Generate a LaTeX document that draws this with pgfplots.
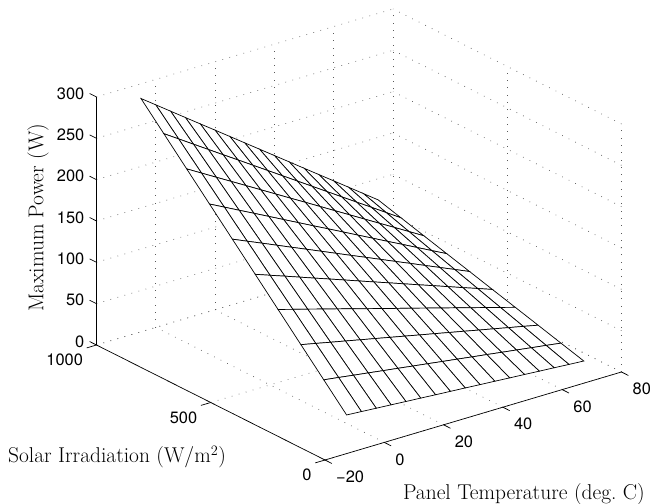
\documentclass[border=0pt]{standalone}
\usepackage{pgfplots}
\usepackage{pgfplotstable}
\usepackage{fontspec}
\pgfplotsset{compat=1.18}
\newfontfamily\helv{TeX Gyre Heros}
\newcommand\seg[2]{\addplot3[black, line width=0.7bp, forget plot] coordinates {#1 #2};}
\pgfplotstableread{
T G P
-5 100 24.6
0 100 23.4
5 100 22.1
10 100 20.9
15 100 19.6
20 100 18.4
25 100 17.1
30 100 15.9
35 100 14.7
40 100 13.4
45 100 12.2
50 100 10.9
55 100 9.7
60 100 8.4
65 100 7.2
70 100 5.9
75 100 4.7
-5 200 53.2
0 200 50.7
5 200 48.1
10 200 45.6
15 200 43.0
20 200 40.5
25 200 37.9
30 200 35.4
35 200 32.8
40 200 30.3
45 200 27.7
50 200 25.2
55 200 22.6
60 200 20.1
65 200 17.5
70 200 15.0
75 200 12.4
-5 300 81.8
0 300 78.0
5 300 74.1
10 300 70.3
15 300 66.4
20 300 62.6
25 300 58.7
30 300 54.9
35 300 51.0
40 300 47.2
45 300 43.3
50 300 39.5
55 300 35.6
60 300 31.8
65 300 27.9
70 300 24.1
75 300 20.2
-5 400 110.5
0 400 105.3
5 400 100.2
10 400 95.0
15 400 89.9
20 400 84.7
25 400 79.5
30 400 74.4
35 400 69.2
40 400 64.1
45 400 58.9
50 400 53.7
55 400 48.6
60 400 43.4
65 400 38.3
70 400 33.1
75 400 27.9
-5 500 139.1
0 500 132.6
5 500 126.2
10 500 119.7
15 500 113.2
20 500 106.8
25 500 100.3
30 500 93.8
35 500 87.3
40 500 80.9
45 500 74.4
50 500 67.9
55 500 61.5
60 500 55.0
65 500 48.5
70 500 42.1
75 500 35.6
-5 600 167.7
0 600 159.9
5 600 152.2
10 600 144.4
15 600 136.6
20 600 128.9
25 600 121.1
30 600 113.3
35 600 105.5
40 600 97.8
45 600 90.0
50 600 82.2
55 600 74.5
60 600 66.7
65 600 58.9
70 600 51.2
75 600 43.4
-5 700 196.3
0 700 187.2
5 700 178.1
10 700 169.1
15 700 160.0
20 700 150.9
25 700 141.8
30 700 132.7
35 700 123.7
40 700 114.6
45 700 105.5
50 700 96.4
55 700 87.3
60 700 78.3
65 700 69.2
70 700 60.1
75 700 51.1
-5 800 224.9
0 800 214.5
5 800 204.1
10 800 193.8
15 800 183.4
20 800 173.0
25 800 162.6
30 800 152.2
35 800 141.9
40 800 131.5
45 800 121.1
50 800 110.7
55 800 100.3
60 800 89.9
65 800 79.6
70 800 69.2
75 800 58.8
-5 900 253.6
0 900 241.9
5 900 230.2
10 900 218.5
15 900 206.8
20 900 195.2
25 900 183.5
30 900 171.8
35 900 160.1
40 900 148.4
45 900 136.7
50 900 125.0
55 900 113.3
60 900 101.6
65 900 90.0
70 900 78.3
75 900 66.6
-5 1000 282.2
0 1000 269.2
5 1000 256.2
10 1000 243.2
15 1000 230.2
20 1000 217.3
25 1000 204.3
30 1000 191.3
35 1000 178.3
40 1000 165.3
45 1000 152.3
50 1000 139.3
55 1000 126.3
60 1000 113.4
65 1000 100.4
70 1000 87.4
75 1000 74.4
}\meshdata
\begin{document}
\begin{tikzpicture}
\path[use as bounding box] (0,0) rectangle (650bp,504bp);
\begin{axis}[
  at={(96.5bp,44bp)}, anchor=south west,
  x={(2.965bp,0.88bp)}, y={(-0.2285bp,0.115bp)}, z={(0bp,0.8267bp)},
  xmin=-20, xmax=80, ymin=0, ymax=1000, zmin=0, zmax=300,
  clip=false,
  grid=major,
  grid style={line width=0.7bp, dash pattern=on 0.7bp off 6.6bp, black!65},
  axis line style={draw=none},
  tick align=outside,
  tick pos=left,
  major tick length=0pt,
  tick style={draw=none},
  xtick={-20,0,20,40,60,80},
  xticklabels={−20,0,20,40,60,80},
  ytick={0,500,1000},
  yticklabels={0,500,1000},
  ztick={0,50,100,150,200,250,300},
  zticklabels={0,50,100,150,200,250,300},
  tick label style={font=\helv\fontsize{16.5}{19}\selectfont, inner sep=0pt},
  xticklabel style={anchor=west, xshift=11bp, yshift=-17bp},
  yticklabel style={anchor=east, xshift=-13.3bp, yshift=-15bp},
  zticklabel style={anchor=east, xshift=-12bp, yshift=3.5bp},
  label style={font=\fontsize{21.5}{25}\selectfont, inner sep=0pt, anchor=center},
  xlabel={Panel Temperature (deg.\ C)},
  ylabel={Solar Irradiation (W/m$^2$)},
  zlabel={Maximum Power (W)},
  xlabel style={at={(axis cs:47.1,0,-112.5)}},
  ylabel style={at={(axis cs:-20,910,-123)}, rotate=0},
  zlabel style={at={(axis cs:-39.73,1000,175)}, rotate=0},
  colormap={allwhite}{color=(white) color=(white)},
]
\addplot3[surf, shader=faceted, faceted color=black, line width=0.7bp, mesh/rows=10, mesh/ordering=x varies]
  table[x=T, y=G, z=P] {\meshdata};
\seg{(-20,0,0)}{(80,0,0)}
\seg{(-20,0,0)}{(-20,1000,0)}
\seg{(-20,1000,0)}{(-20,1000,300)}
\seg{(-20,0,0)}{(-20,-30,0)}
\seg{(0,0,0)}{(0,-30,0)}
\seg{(20,0,0)}{(20,-30,0)}
\seg{(40,0,0)}{(40,-30,0)}
\seg{(60,0,0)}{(60,-30,0)}
\seg{(80,0,0)}{(80,-30,0)}
\seg{(-20,0,0)}{(-23.3,0,0)}
\seg{(-20,500,0)}{(-23.3,500,0)}
\seg{(-20,1000,0)}{(-23.3,1000,0)}
\seg{(-20,1000,0)}{(-20,1030,0)}
\seg{(-20,1000,50)}{(-20,1030,50)}
\seg{(-20,1000,100)}{(-20,1030,100)}
\seg{(-20,1000,150)}{(-20,1030,150)}
\seg{(-20,1000,200)}{(-20,1030,200)}
\seg{(-20,1000,250)}{(-20,1030,250)}
\seg{(-20,1000,300)}{(-20,1030,300)}
\end{axis}
\end{tikzpicture}
\end{document}
